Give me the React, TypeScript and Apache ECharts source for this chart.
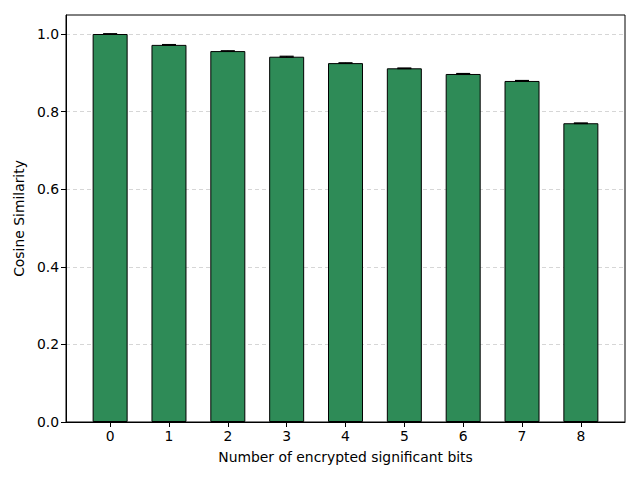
import React, { useEffect, useRef } from "react";
import * as echarts from "echarts";

const bits = [0, 1, 2, 3, 4, 5, 6, 7, 8];
const similarity = [1.0, 0.972, 0.956, 0.9415, 0.925, 0.9116, 0.897, 0.879, 0.770];
const errors = [0.0008, 0.0008, 0.0008, 0.0012, 0.0008, 0.0008, 0.0012, 0.0012, 0.0008];
const yTicks = [0, 0.2, 0.4, 0.6, 0.8, 1.0];

export default function App() {
  const ref = useRef<HTMLDivElement>(null);
  useEffect(() => {
    if (!ref.current) return;
    const chart = echarts.init(ref.current, null, { renderer: "svg" });
    const font = "DejaVu Sans";
    const fs = 13.9;
    chart.setOption({
      animation: false,
      textStyle: { fontFamily: font },
      grid: {
        left: 66, right: 15, top: 15, bottom: 58,
        show: true, borderColor: "#000", borderWidth: 1,
      },
      xAxis: {
        type: "value",
        min: -0.75,
        max: 8.75,
        name: "Number of encrypted significant bits",
        nameLocation: "middle",
        nameGap: 28,
        nameTextStyle: { fontSize: fs, color: "#000", fontFamily: font },
        axisLine: { show: true, onZero: false, lineStyle: { color: "#000" } },
        axisTick: { show: true, customValues: bits, length: 5, lineStyle: { color: "#000" } },
        axisLabel: { customValues: bits, fontSize: fs, color: "#000", margin: 7, fontFamily: font },
        splitLine: { show: false },
      },
      yAxis: {
        type: "value",
        min: 0,
        max: 1.049,
        interval: 0.2,
        name: "Cosine Similarity",
        nameLocation: "middle",
        nameGap: 39,
        nameTextStyle: { fontSize: fs, color: "#000", fontFamily: font },
        axisLine: { show: true, onZero: false, lineStyle: { color: "#000" } },
        axisTick: { show: true, customValues: yTicks, length: 5, lineStyle: { color: "#000" } },
        axisLabel: {
          customValues: yTicks,
          fontSize: fs, color: "#000", margin: 7, fontFamily: font,
          formatter: (v: number) => v.toFixed(1),
        },
        splitLine: {
          show: true,
          lineStyle: { color: "#cccccc", type: [4, 3], width: 0.8 },
        },
      },
      series: [
        {
          type: "bar",
          data: bits.map((b, i) => [b, similarity[i]]),
          barWidth: 35,
          itemStyle: { color: "#2E8B57", borderColor: "#000", borderWidth: 1 },
        },
        {
          type: "custom",
          data: bits.map((b, i) => [b, similarity[i], errors[i]]),
          renderItem: (params: any, api: any) => {
            const x = api.value(0);
            const y = api.value(1);
            const e = api.value(2);
            const lo = api.coord([x, y - e]);
            const hi = api.coord([x, y + e]);
            const cap = 7;
            const style = { stroke: "#000", lineWidth: 1.2 };
            return {
              type: "group",
              children: [
                { type: "line", shape: { x1: lo[0], y1: lo[1], x2: hi[0], y2: hi[1] }, style },
                { type: "line", shape: { x1: lo[0] - cap, y1: lo[1], x2: lo[0] + cap, y2: lo[1] }, style },
                { type: "line", shape: { x1: hi[0] - cap, y1: hi[1], x2: hi[0] + cap, y2: hi[1] }, style },
              ],
            };
          },
          z: 5,
        },
      ],
    });
    return () => chart.dispose();
  }, []);
  return <div ref={ref} style={{ width: 640, height: 480, position: "absolute", left: 0, top: 0 }} />;
}
